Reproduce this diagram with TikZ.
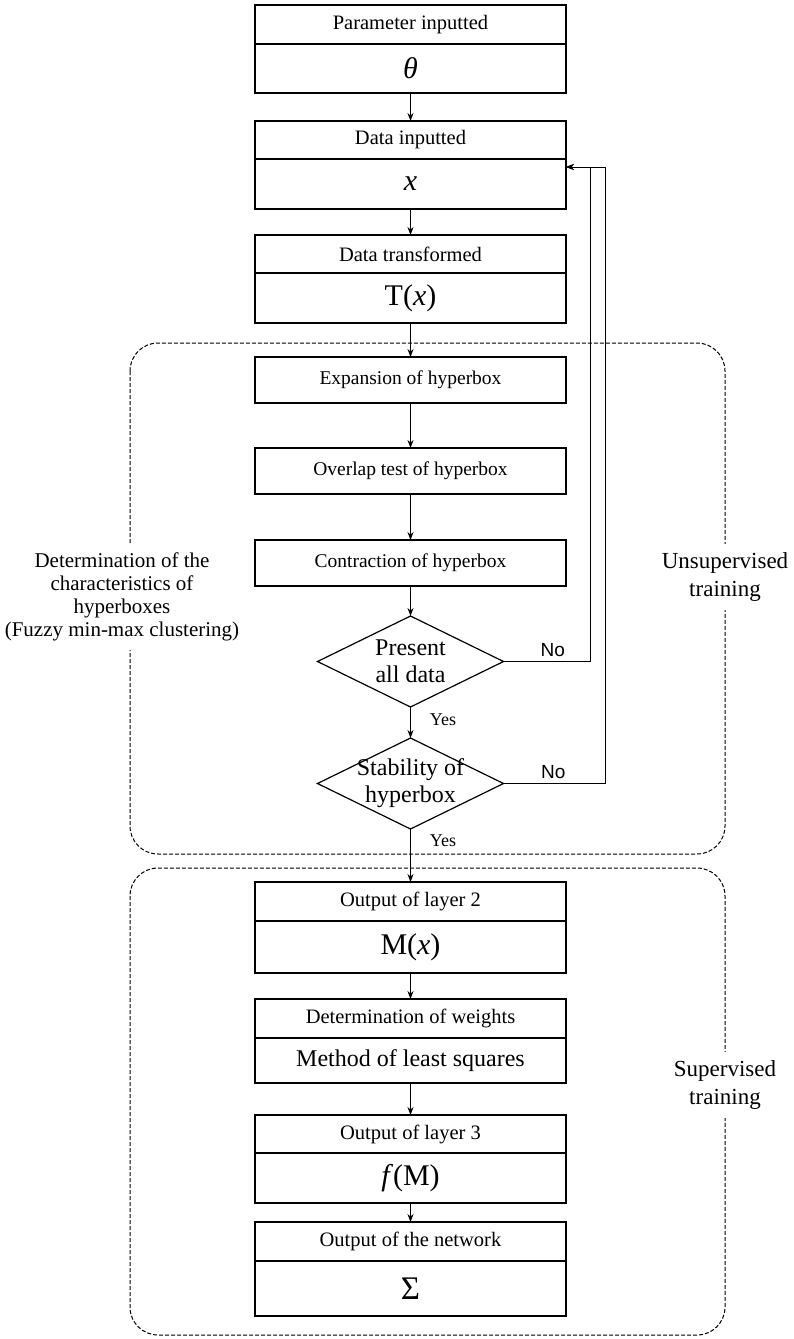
\documentclass[tikz,border=0pt]{standalone}
\usepackage{fontspec}
\setmainfont{Liberation Serif}
\newfontfamily\nofont{Liberation Sans}
\usetikzlibrary{positioning,shapes.geometric,arrows.meta}

\newcommand{\headsz}{\fontsize{20.5}{22}\selectfont}
\newcommand{\stepsz}{\fontsize{19.5}{22}\selectfont}
\newcommand{\mathsz}{\fontsize{30}{32}\selectfont}
\newcommand{\decsz}{\fontsize{24}{27}\selectfont}
\newcommand{\sidesz}{\fontsize{23}{28}\selectfont}

\tikzset{
  head/.style={draw, line width=1.2pt, minimum width=311pt, minimum height=39pt,
    inner sep=0pt, outer sep=0pt, font=\headsz},
  body/.style={draw, line width=1.2pt, minimum width=311pt, minimum height=49pt,
    inner sep=0pt, outer sep=0pt, font=\mathsz},
  stepbox/.style={draw, line width=1.2pt, minimum width=311pt, minimum height=46pt,
    inner sep=0pt, outer sep=0pt, font=\stepsz},
  decision/.style={draw, diamond, line width=1.2pt, minimum width=186pt,
    minimum height=91pt, inner sep=0pt, outer sep=0pt},
  dtext/.style={align=center, font=\decsz, inner sep=0pt},
  flow/.style={-{Stealth[length=8pt,width=6pt]}, line width=0.9pt},
  yes/.style={right, inner sep=0pt, xshift=19pt, font=\fontsize{18}{20}\selectfont},
  no/.style={above, inner sep=4pt, font=\nofont\fontsize{19}{20}\selectfont},
  region/.style={dashed, dash pattern=on 4pt off 2pt, line width=1pt, rounded corners=28pt},
  regionlabel/.style={fill=white, align=center, inner xsep=2pt, inner ysep=9pt},
}

\begin{document}
\begin{tikzpicture}[x=1pt,y=-1pt]
\useasboundingbox (0,0) rectangle (794,1339);

% dashed regions
\draw[region] (130,343) rectangle (725,854);
\draw[region] (130,868) rectangle (725,1335);

% input
\node[head, anchor=north] (param) at (410.5,5) {Parameter inputted};
\node[body, below=0pt of param] (theta) {\textit{θ}};
\node[head, below=28pt of theta, minimum height=38pt] (data) {Data inputted};
\node[body, below=0pt of data, minimum height=50pt] (xval) {\textit{x}};
\node[head, below=26pt of xval, minimum height=38pt] (trans) {Data transformed};
\node[body, below=0pt of trans, minimum height=50pt] (tx) {T(\textit{x})};

% unsupervised training
\node[stepbox, below=34pt of tx] (expand) {Expansion of hyperbox};
\node[stepbox, below=45pt of expand] (overlap) {Overlap test of hyperbox};
\node[stepbox, below=46pt of overlap] (contract) {Contraction of hyperbox};
\node[decision, below=30pt of contract] (present) {};
\node[dtext] at (present) {Present\\all data};
\node[decision, below=31pt of present] (stable) {};
\node[dtext] at (stable) {Stability of\\hyperbox};

% supervised training
\node[head, below=53pt of stable] (layer2) {Output of layer 2};
\node[body, below=0pt of layer2, minimum height=52pt] (mx) {M(\textit{x})};
\node[head, below=26pt of mx] (weights) {Determination of weights};
\node[body, below=0pt of weights, minimum height=45pt, font=\fontsize{24}{26}\selectfont] (lsq) {Method of least squares};
\node[head, below=32pt of lsq, minimum height=38pt] (layer3) {Output of layer 3};
\node[body, below=0pt of layer3, minimum height=50pt] (fm) {\textit{f}(M)};
\node[head, below=19pt of fm] (network) {Output of the network};
\node[body, below=0pt of network, minimum height=55pt, font=\fontsize{33}{35}\selectfont] (sigma) {Σ};

% side labels
\node[regionlabel, font=\fontsize{21}{23}\selectfont] (clust) at (122,597)
  {Determination of the\\characteristics of\\hyperboxes\\(Fuzzy min-max clustering)};
\node[regionlabel, font=\sidesz] (unsup) at (725,577) {Unsupervised\\training};
\node[regionlabel, font=\sidesz] (sup) at (725,1085) {Supervised\\training};

% main flow
\draw[flow] (theta) -- (data);
\draw[flow] (xval) -- (trans);
\draw[flow] (tx) -- (expand);
\draw[flow] (expand) -- (overlap);
\draw[flow] (overlap) -- (contract);
\draw[flow] (contract) -- (present);
\draw[flow] (present) -- node[yes, pos=0.4] {Yes} (stable);
\draw[flow] (stable) -- node[yes, pos=0.22] {Yes} (layer2);
\draw[flow] (mx) -- (weights);
\draw[flow] (lsq) -- (layer3);
\draw[flow] (fm) -- (network);

% feedback loops
\coordinate (entry) at ([yshift=-8pt]xval.north east);
\coordinate (loopa) at (590,0);
\coordinate (loopb) at (605,0);
\draw[flow] (present.east) -- node[no, pos=0.57] {No} (present.east -| loopa) -- (loopa |- entry) -- (entry);
\draw[flow] (stable.east) -- node[no, pos=0.49] {No} (stable.east -| loopb) -- (loopb |- entry) -- (entry);
\end{tikzpicture}
\end{document}
